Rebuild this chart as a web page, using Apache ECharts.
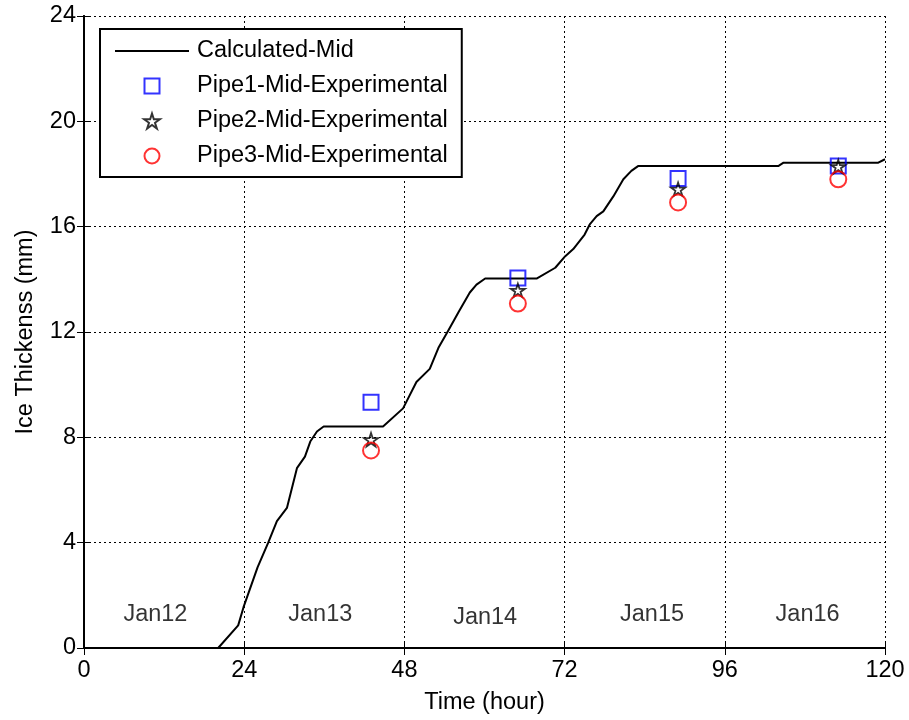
<!DOCTYPE html>
<html>
<head>
<meta charset="utf-8">
<script src="https://cdn.jsdelivr.net/npm/echarts@6/dist/echarts.min.js"></script>
<style>
  html, body { margin: 0; padding: 0; background: #fff; }
  #chart { width: 909px; height: 720px; }
</style>
</head>
<body>
<div id="chart"></div>
<script>
// Calculated mid-pipe ice thickness: [time (hour), thickness (mm)]
const calculatedMid = [
  [20.1, 0], [23.1, 0.86], [23.9, 1.55], [26.0, 3.06], [27.6, 4.0], [28.9, 4.82],
  [30.4, 5.32], [31.9, 6.83], [33.1, 7.27], [33.9, 7.84], [34.9, 8.22], [35.9, 8.41],
  [44.8, 8.41], [47.8, 9.1], [49.8, 10.1], [51.8, 10.6], [53.1, 11.4], [54.6, 12.07],
  [56.1, 12.75], [57.8, 13.5], [58.8, 13.8], [60.1, 14.03], [67.8, 14.03], [70.6, 14.44],
  [72.1, 14.88], [73.3, 15.15], [75.0, 15.7], [75.8, 16.1], [76.8, 16.4], [77.8, 16.58],
  [79.3, 17.15], [80.8, 17.8], [82.0, 18.12], [83.0, 18.3], [104.0, 18.3], [104.8, 18.43],
  [119.0, 18.43], [120, 18.56]
];

// Measurement times (hour)
const measureHours = [43, 65, 89, 113];
// Measured thickness (mm) per pipe
const pipe1Mid = [9.33, 14.05, 17.83, 18.3];
const pipe2Mid = [7.91, 13.58, 17.42, 18.28];
const pipe3Mid = [7.5, 13.08, 16.92, 17.8];

// Day annotations inside the plot
const dayLabels = ['Jan12', 'Jan13', 'Jan14', 'Jan15', 'Jan16'];
const dayLabelHours = [10.7, 35.4, 60.1, 85.1, 108.4];
const dayLabelLevels = [1.28, 1.28, 1.15, 1.28, 1.28];

// Axis ticks
const xTicks = [0, 24, 48, 72, 96, 120];
const yTicks = [0, 4, 8, 12, 16, 20, 24];

const pair = (xs, ys) => xs.map((x, i) => [x, ys[i]]);
const FONT = 'Liberation Sans, Arial, sans-serif';
const FS = 23.5;
const STAR = 'path://M50,0L61.17,34.63L97.55,34.55L68.07,55.87L79.39,90.45L50,69L20.61,90.45L31.93,55.87L2.45,34.55L38.83,34.63Z';
const SQUARE = 'path://M0,0H10V10H0Z';
const LINE_ICON = 'path://M0,0H74V2H0Z';

const gridLine = { show: true, lineStyle: { color: '#000', type: [2, 3], width: 1 } };
const frameLine = { show: true, lineStyle: { color: '#000', width: 2 } };
const tickIn = { show: true, inside: true, length: 7, lineStyle: { color: '#000', width: 1 } };

const xBase = { type: 'value', min: xTicks[0], max: xTicks[xTicks.length - 1], interval: 24 };
const yBase = { type: 'value', min: yTicks[0], max: yTicks[yTicks.length - 1], interval: 4 };

const chart = echarts.init(document.getElementById('chart'), null, { renderer: 'canvas' });
chart.setOption({
  animation: false,
  backgroundColor: '#fff',
  textStyle: { fontFamily: FONT },
  grid: { left: 84, right: 24, top: 16, bottom: 69, show: false },
  xAxis: [
    Object.assign({}, xBase, {
      position: 'bottom',
      name: 'Time (hour)', nameLocation: 'middle', nameGap: 43,
      nameTextStyle: { fontSize: FS, color: '#000', fontFamily: FONT },
      axisLine: frameLine, axisTick: tickIn, splitLine: gridLine,
      axisLabel: { fontSize: FS, color: '#000', margin: 11, fontFamily: FONT }
    }),
    Object.assign({}, xBase, {
      position: 'top',
      axisLine: frameLine, axisTick: tickIn, splitLine: { show: false },
      axisLabel: { show: false }
    })
  ],
  yAxis: [
    Object.assign({}, yBase, {
      position: 'left',
      name: 'Ice Thickenss (mm)', nameLocation: 'middle', nameGap: 46,
      nameTextStyle: { fontSize: FS, color: '#000', fontFamily: FONT },
      axisLine: frameLine, axisTick: tickIn, splitLine: gridLine,
      axisLabel: { fontSize: FS, color: '#000', margin: 8, fontFamily: FONT }
    }),
    Object.assign({}, yBase, {
      position: 'right',
      axisLine: frameLine, axisTick: tickIn, splitLine: { show: false },
      axisLabel: { show: false }
    })
  ],
  legend: {
    orient: 'vertical',
    left: 100, top: 29,
    padding: [10, 14, 9, 15],
    itemGap: 11,
    itemWidth: 74, itemHeight: 15,
    backgroundColor: '#fff',
    borderColor: '#000', borderWidth: 2,
    textStyle: { fontSize: FS, color: '#000', fontFamily: FONT, padding: [0, 0, 0, 3] },
    data: [
      { name: 'Calculated-Mid', icon: LINE_ICON },
      { name: 'Pipe1-Mid-Experimental', icon: SQUARE },
      { name: 'Pipe2-Mid-Experimental', icon: STAR },
      { name: 'Pipe3-Mid-Experimental', icon: 'circle' }
    ]
  },
  series: [
    {
      name: 'Calculated-Mid', type: 'line', data: calculatedMid,
      symbol: 'none', lineStyle: { color: '#000', width: 2 }, itemStyle: { color: '#000' }, z: 3
    },
    {
      name: 'Pipe1-Mid-Experimental', type: 'scatter', data: pair(measureHours, pipe1Mid),
      symbol: 'rect', symbolSize: 15,
      itemStyle: { color: 'rgba(0,0,0,0)', borderColor: '#0000ff', borderWidth: 2 }, z: 4
    },
    {
      name: 'Pipe2-Mid-Experimental', type: 'scatter', data: pair(measureHours, pipe2Mid),
      symbol: STAR, symbolSize: 14, symbolKeepAspect: true,
      itemStyle: { color: 'rgba(0,0,0,0)', borderColor: '#000', borderWidth: 1.8 }, z: 4
    },
    {
      name: 'Pipe3-Mid-Experimental', type: 'scatter', data: pair(measureHours, pipe3Mid),
      symbol: 'circle', symbolSize: 16,
      itemStyle: { color: 'rgba(0,0,0,0)', borderColor: '#ff0000', borderWidth: 2 }, z: 4
    },
    {
      name: 'days', type: 'scatter', symbolSize: 0, silent: true,
      data: dayLabelHours.map((h, i) => [h, dayLabelLevels[i], dayLabels[i]]),
      label: {
        show: true, position: 'inside', formatter: p => p.value[2],
        fontSize: FS, color: '#000', fontFamily: FONT,
        textBorderWidth: 0
      },
      z: 2
    }
  ]
});
</script>
</body>
</html>
